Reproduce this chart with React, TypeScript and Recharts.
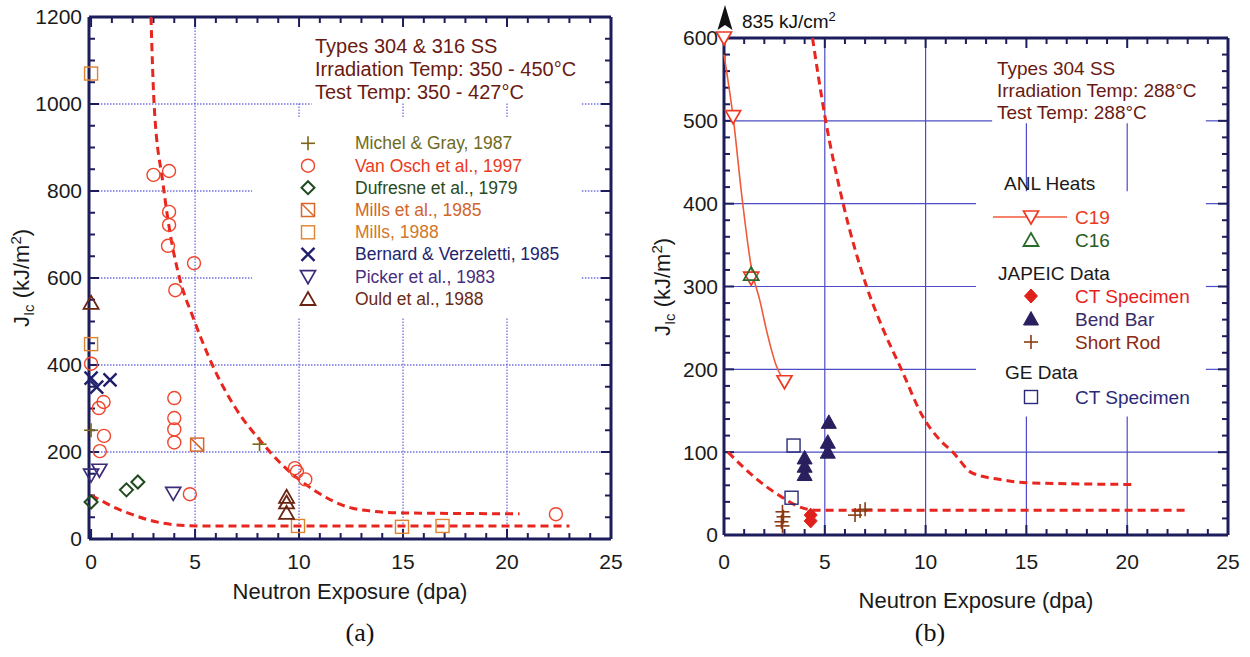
import React from 'react';
import { ScatterChart, Scatter, XAxis, YAxis, ReferenceLine } from 'recharts';

type Pt = { x: number; y: number };
const toPts = (a: number[][]): Pt[] => a.map(([x, y]) => ({ x, y }));

// ---------------- Panel (a) data: Types 304 & 316 SS ----------------
const michelGray = [[0, 250], [8.1, 218]];
const vanOsch = [
  [0, 403], [0.6, 315], [0.37, 301], [0.62, 237], [0.42, 202],
  [3.0, 837], [3.75, 846], [3.75, 752], [3.75, 722], [3.7, 674], [4.95, 634], [4.05, 572],
  [4.0, 324], [4.0, 278], [4.0, 252], [4.0, 222], [4.75, 103],
  [9.8, 163], [9.9, 155], [10.3, 137], [22.35, 57],
];
const dufresne = [[0, 85], [1.7, 113], [2.25, 131]];
const millsEtAl = [[5.1, 217]];
const mills1988 = [[0, 1070], [0, 448], [9.95, 30], [14.95, 28], [16.9, 30]];
const bernard = [[0, 370], [0.27, 349], [0.91, 366]];
const picker = [[0, 147], [0.4, 158], [3.95, 105]];
const ould = [[0, 543], [9.4, 97], [9.4, 84], [9.4, 60]];
const upperCurveA = [
  [2.88, 1200], [3.03, 1000], [3.45, 820], [3.8, 703], [4.28, 595], [4.9, 510], [5.87, 396],
  [7.0, 297], [8.1, 228], [9.2, 170], [10.7, 113], [12.45, 72], [13.5, 64], [15, 60], [20.6, 58],
];
const lowerCurveA = [[0, 100], [0.5, 88], [1.1, 73], [2, 56], [2.75, 44], [3.5, 36], [4.5, 31], [5.5, 30], [23, 30]];

// ---------------- Panel (b) data: Type 304 SS ----------------
const c19 = [[0, 600], [0.45, 505], [1.35, 310], [3.0, 185]];
const c19Fit = [[0, 580], [0.45, 505], [0.9, 406], [1.37, 321], [1.78, 283], [2.1, 248], [2.6, 204], [3.0, 185]];
const c16 = [[1.35, 315]];
const japeicCT = [[4.3, 24], [4.3, 17]];
const bendBar = [[4.0, 93], [4.0, 83], [4.0, 73], [5.2, 136], [5.15, 112], [5.15, 100]];
const shortRod = [[2.9, 28], [2.95, 22], [2.85, 16], [2.9, 11], [6.5, 24], [6.75, 29], [7.0, 31]];
const geCT = [[3.45, 108], [3.35, 45]];
const upperCurveB = [
  [4.39, 600], [5.03, 502], [5.9, 401], [7.06, 301], [7.9, 248], [8.8, 200], [9.86, 143],
  [10.7, 115], [11.35, 100], [12.3, 75], [13.7, 67], [15, 63], [20.25, 61],
];
const lowerCurveB = [[0.2, 100], [1.5, 70], [2.85, 46], [3.85, 33], [4.5, 30], [23, 30]];

// ---------------- axes ----------------
const xTicks = [0, 5, 10, 15, 20, 25];
const xMinorTicks = Array.from({ length: 26 }, (_, i) => i);
const yTicksA = [0, 200, 400, 600, 800, 1000, 1200];
const yMinorA = Array.from({ length: 25 }, (_, i) => i * 50);
const yTicksB = [0, 100, 200, 300, 400, 500, 600];
const yMinorB = Array.from({ length: 31 }, (_, i) => i * 20);

// gridline segments (gaps where the text boxes sit)
const gridA = [
  [5, 0, 5, 1200], [10, 0, 10, 508], [10, 970, 10, 1002], [15, 0, 15, 508], [15, 970, 15, 1002],
  [20, 0, 20, 508], [20, 970, 20, 1002],
  [-0.1, 200, 25, 200], [-0.1, 400, 25, 400], [-0.1, 600, 7.74, 600], [23.6, 600, 25, 600],
  [-0.1, 800, 7.74, 800], [23.6, 800, 25, 800], [-0.1, 1000, 10.6, 1000], [23.6, 1000, 25, 1000],
];
const gridB = [
  [5, 0, 5, 600], [10, 0, 10, 600], [15, 0, 15, 143], [15, 415, 15, 497], [20, 0, 20, 143], [20, 415, 20, 497],
  [0, 100, 25, 100], [0, 200, 12.5, 200], [23.9, 200, 25, 200], [0, 300, 12.5, 300], [23.9, 300, 25, 300],
  [0, 400, 12.5, 400], [23.9, 400, 25, 400], [0, 500, 13.3, 500], [23.9, 500, 25, 500],
];

const FONT = "'Liberation Sans', Arial, Helvetica, sans-serif";
const AX = '#1d1d5c';
const RED = '#e8251e';

function marker(kind: string, cx: number, cy: number, c: string, key?: string) {
  switch (kind) {
    case 'plus':
      return (
        <g key={key} stroke={c} strokeWidth={1.6}>
          <line x1={cx - 7} y1={cy} x2={cx + 7} y2={cy} />
          <line x1={cx} y1={cy - 7} x2={cx} y2={cy + 7} />
        </g>
      );
    case 'circle':
      return <circle key={key} cx={cx} cy={cy} r={6.5} fill="none" stroke={c} strokeWidth={1.4} />;
    case 'diamond':
      return <path key={key} d={`M${cx},${cy - 6.5}L${cx + 6.5},${cy}L${cx},${cy + 6.5}L${cx - 6.5},${cy}Z`} fill="none" stroke={c} strokeWidth={2} />;
    case 'diamondFilled':
      return <path key={key} d={`M${cx},${cy - 7}L${cx + 6.5},${cy}L${cx},${cy + 7}L${cx - 6.5},${cy}Z`} fill={c} stroke={c} strokeWidth={1} />;
    case 'square':
      return <rect key={key} x={cx - 6.5} y={cy - 6.5} width={13} height={13} fill="none" stroke={c} strokeWidth={1.4} />;
    case 'squareDiag':
      return (
        <g key={key} stroke={c} strokeWidth={1.5} fill="none">
          <rect x={cx - 6.5} y={cy - 6.5} width={13} height={13} />
          <line x1={cx - 6.5} y1={cy - 6.5} x2={cx + 6.5} y2={cy + 6.5} />
        </g>
      );
    case 'cross':
      return (
        <g key={key} stroke={c} strokeWidth={2.4}>
          <line x1={cx - 6.5} y1={cy - 6.5} x2={cx + 6.5} y2={cy + 6.5} />
          <line x1={cx - 6.5} y1={cy + 6.5} x2={cx + 6.5} y2={cy - 6.5} />
        </g>
      );
    case 'triDown':
      return <path key={key} d={`M${cx - 7.5},${cy - 6}L${cx + 7.5},${cy - 6}L${cx},${cy + 7}Z`} fill="none" stroke={c} strokeWidth={1.7} />;
    case 'triDownW':
      return <path key={key} d={`M${cx - 7.5},${cy - 6}L${cx + 7.5},${cy - 6}L${cx},${cy + 7}Z`} fill="#fff" stroke={c} strokeWidth={1.7} />;
    case 'triUp':
      return <path key={key} d={`M${cx},${cy - 7}L${cx + 7.5},${cy + 6}L${cx - 7.5},${cy + 6}Z`} fill="none" stroke={c} strokeWidth={1.8} />;
    case 'triUpFilled':
      return <path key={key} d={`M${cx},${cy - 7.5}L${cx + 7.5},${cy + 6}L${cx - 7.5},${cy + 6}Z`} fill={c} stroke={c} strokeWidth={1} />;
    default:
      return <g key={key} />;
  }
}

const shapeOf = (kind: string, color: string) => (props: any) => marker(kind, props.cx, props.cy, color);
const noShape = () => <g />;

type Series = { name: string; data: number[][]; kind: string; color: string; text: string };

const seriesA: Series[] = [
  { name: 'Michel & Gray, 1987', data: michelGray, kind: 'plus', color: '#7a6518', text: '#6e6a1c' },
  { name: 'Van Osch et al., 1997', data: vanOsch, kind: 'circle', color: '#f0452d', text: '#ea3a20' },
  { name: 'Dufresne et al., 1979', data: dufresne, kind: 'diamond', color: '#1e4a1e', text: '#2a4a22' },
  { name: 'Mills et al., 1985', data: millsEtAl, kind: 'squareDiag', color: '#d9662a', text: '#d2662a' },
  { name: 'Mills, 1988', data: mills1988, kind: 'square', color: '#e0822e', text: '#d2772a' },
  { name: 'Bernard & Verzeletti, 1985', data: bernard, kind: 'cross', color: '#1f1f6e', text: '#23236e' },
  { name: 'Picker et al., 1983', data: picker, kind: 'triDown', color: '#3d2a78', text: '#4a2f7e' },
  { name: 'Ould et al., 1988', data: ould, kind: 'triUp', color: '#6b2412', text: '#6a2a14' },
];

const seriesB: Series[] = [
  { name: 'C19', data: c19, kind: 'triDownW', color: '#ee3a22', text: '#ea3a20' },
  { name: 'C16', data: c16, kind: 'triUp', color: '#2a6a2a', text: '#2a5a22' },
  { name: 'CT Specimen', data: japeicCT, kind: 'diamondFilled', color: '#e0201a', text: '#e8201c' },
  { name: 'Bend Bar', data: bendBar, kind: 'triUpFilled', color: '#2a1f5e', text: '#3a2a6a' },
  { name: 'Short Rod', data: shortRod, kind: 'plus', color: '#8a3a12', text: '#8b2a10' },
  { name: 'CT Specimen', data: geCT, kind: 'square', color: '#2a2a78', text: '#2a2a7a' },
];

function frameAxes(xDomain: [number, number], yDomain: [number, number], yMajor: number[], xTm: number, yTm: number) {
  const tickStyle = { fill: '#1a1a1a', fontSize: 21, fontFamily: FONT };
  const line = { stroke: AX, strokeWidth: 3 };
  return [
    <XAxis key="x" xAxisId="x" type="number" dataKey="x" domain={xDomain} ticks={xTicks} interval={0} tickSize={0} tickMargin={xTm} height={40} axisLine={line} tickLine={false} tick={tickStyle} />,
    <YAxis key="y" yAxisId="y" type="number" dataKey="y" domain={yDomain} ticks={yMajor} interval={0} tickSize={0} tickMargin={yTm} width={60} axisLine={line} tickLine={false} tick={tickStyle} />,
    <XAxis key="xt" xAxisId="xt" type="number" mirror orientation="top" domain={xDomain} allowDataOverflow ticks={xTicks} interval={0} height={1} axisLine={line} tickLine={false} tick={false} />,
    <YAxis key="yr" yAxisId="yr" type="number" mirror orientation="right" domain={yDomain} allowDataOverflow ticks={yMajor} interval={0} width={1} axisLine={line} tickLine={false} tick={false} />,
  ];
}

// inward tick marks on all four sides, drawn as short reference segments
function tickMarks(xDomain: [number, number], yDomain: [number, number], yMinor: number[], yMajor: number[], pxPerX: number, pxPerY: number, prefix: string) {
  const [x0, x1] = xDomain;
  const [y0, y1] = yDomain;
  const segs: number[][] = [];
  xMinorTicks.forEach((v) => {
    const L = (xTicks.indexOf(v) >= 0 ? 10 : 6) / pxPerY;
    segs.push([v, y0, v, y0 + L], [v, y1, v, y1 - L]);
  });
  yMinor.forEach((v) => {
    const L = (yMajor.indexOf(v) >= 0 ? 10 : 6) / pxPerX;
    segs.push([x0, v, x0 + L, v], [x1, v, x1 - L, v]);
  });
  return segs.map(([a, b, c, d], i) => (
    <ReferenceLine key={`${prefix}${i}`} xAxisId="x" yAxisId="y" segment={[{ x: a, y: b }, { x: c, y: d }]} stroke={AX} strokeWidth={2} />
  ));
}

function gridLines(segs: number[][], style: any, prefix: string) {
  return segs.map(([x1, y1, x2, y2], i) => (
    <ReferenceLine key={`${prefix}${i}`} xAxisId="x" yAxisId="y" segment={[{ x: x1, y: y1 }, { x: x2, y: y2 }]} {...style} />
  ));
}

function curve(data: number[][], key: string, stroke: any) {
  return (
    <Scatter key={key} xAxisId="x" yAxisId="y" data={toPts(data)} line={stroke} lineJointType="monotoneX" shape={noShape} isAnimationActive={false} />
  );
}

function yTitle(cx: number, cy: number) {
  return (
    <text transform={`translate(${cx},${cy}) rotate(-90)`} textAnchor="middle" y={8} fontSize={22} fontFamily={FONT} fill="#1a1a1a">
      <tspan>J</tspan>
      <tspan fontSize={15} dy={5}>Ic</tspan>
      <tspan dy={-5}> (kJ/m</tspan>
      <tspan fontSize={15} dy={-8}>2</tspan>
      <tspan dy={8}>)</tspan>
    </text>
  );
}

export default function App() {
  const dashed = { stroke: RED, strokeWidth: 3, strokeDasharray: '8 5', fill: 'none' };
  const rowsA = [143.3, 165.7, 187.7, 210, 232.3, 254.3, 276.7, 299];
  const legB = [
    { s: seriesB[0], y: 217 },
    { s: seriesB[1], y: 240 },
    { s: seriesB[2], y: 296 },
    { s: seriesB[3], y: 319 },
    { s: seriesB[4], y: 342 },
    { s: seriesB[5], y: 397 },
  ];
  // plot areas: A = 522 x 522 px, B = 504 x 497 px
  const pxXA = 522 / 25.1, pxYA = 522 / 1200;
  const pxXB = 504 / 25, pxYB = 497 / 600;
  return (
    <div style={{ position: 'absolute', left: 0, top: 0, width: 1250, height: 657, background: '#fff', fontFamily: FONT }}>
      <div style={{ position: 'absolute', left: 0, top: 0 }}>
        <ScatterChart width={640} height={600} margin={{ top: 17, left: 29, right: 29, bottom: 21 }}>
          {frameAxes([-0.1, 25], [0, 1200], yTicksA, 15, 7)}
          {gridLines(gridA, { stroke: '#6f6fe0', strokeWidth: 1.3, strokeDasharray: '1.5 1.5' }, 'ga')}
          {tickMarks([-0.1, 25], [0, 1200], yMinorA, yTicksA, pxXA, pxYA, 'ta')}
          {curve(upperCurveA, 'ua', dashed)}
          {curve(lowerCurveA, 'la', dashed)}
          {seriesA.map((s) => (
            <Scatter key={s.name} name={s.name} xAxisId="x" yAxisId="y" data={toPts(s.data)} shape={shapeOf(s.kind, s.color)} isAnimationActive={false} />
          ))}
        </ScatterChart>
      </div>
      <div style={{ position: 'absolute', left: 640, top: 0 }}>
        <ScatterChart width={610} height={600} margin={{ top: 38, left: 24, right: 22, bottom: 25 }}>
          {frameAxes([0, 25], [0, 600], yTicksB, 19, 6)}
          {gridLines(gridB, { stroke: '#4c4cc4', strokeWidth: 1.2 }, 'gb')}
          {tickMarks([0, 25], [0, 600], yMinorB, yTicksB, pxXB, pxYB, 'tb')}
          {curve(upperCurveB, 'ub', dashed)}
          {curve(lowerCurveB, 'lb', dashed)}
          {curve(c19Fit, 'fit', { stroke: '#f05a3a', strokeWidth: 1.6, fill: 'none' })}
          {seriesB.map((s, i) => (
            <Scatter key={`b${i}`} name={s.name} xAxisId="x" yAxisId="y" data={toPts(s.data)} shape={shapeOf(s.kind, s.color)} isAnimationActive={false} />
          ))}
        </ScatterChart>
      </div>
      <svg width={1250} height={657} style={{ position: 'absolute', left: 0, top: 0, pointerEvents: 'none' }} fontFamily={FONT}>
        {/* panel a */}
        {yTitle(21, 278)}
        <text x={350} y={599} textAnchor="middle" fontSize={22} fill="#1a1a1a">Neutron Exposure (dpa)</text>
        <g fontSize={20} fill="#6a1a12">
          <text x={315} y={53}>Types 304 &amp; 316 SS</text>
          <text x={315} y={76}>Irradiation Temp: 350 - 450°C</text>
          <text x={315} y={99}>Test Temp: 350 - 427°C</text>
        </g>
        {seriesA.map((s, i) => (
          <g key={`la${i}`}>
            {marker(s.kind, 308, rowsA[i], s.color)}
            <text x={355} y={rowsA[i] + 6} fontSize={17.5} fill={s.text}>{s.name}</text>
          </g>
        ))}
        <text x={360} y={641} textAnchor="middle" fontSize={26} fontFamily="'Liberation Serif', 'Times New Roman', serif" fill="#111">(a)</text>

        {/* panel b */}
        {yTitle(662, 287)}
        <text x={976} y={608} textAnchor="middle" fontSize={22} fill="#1a1a1a">Neutron Exposure (dpa)</text>
        <path d="M725,5 L732.5,30 L725,25 L717.5,30 Z" fill="#111" />
        <text x={742} y={28} fontSize={19} fill="#111">
          835 kJ/cm<tspan fontSize={13} dy={-7}>2</tspan>
        </text>
        <g fontSize={19} fill="#6a1a12">
          <text x={997} y={75}>Types 304 SS</text>
          <text x={997} y={97}>Irradiation Temp: 288°C</text>
          <text x={997} y={118.5}>Test Temp: 288°C</text>
        </g>
        <g fontSize={19} fill="#1a1a1a">
          <text x={1004} y={190}>ANL Heats</text>
          <text x={998} y={280}>JAPEIC Data</text>
          <text x={1005} y={379}>GE Data</text>
        </g>
        <line x1={993} y1={217} x2={1067} y2={217} stroke="#f05a3a" strokeWidth={1.5} />
        {legB.map((r, i) => (
          <g key={`lb${i}`}>
            {marker(r.s.kind, 1031, r.y, r.s.color)}
            <text x={1075} y={r.y + 7} fontSize={19} fill={r.s.text}>{r.s.name}</text>
          </g>
        ))}
        <text x={930} y={641} textAnchor="middle" fontSize={26} fontFamily="'Liberation Serif', 'Times New Roman', serif" fill="#111">(b)</text>
      </svg>
    </div>
  );
}
